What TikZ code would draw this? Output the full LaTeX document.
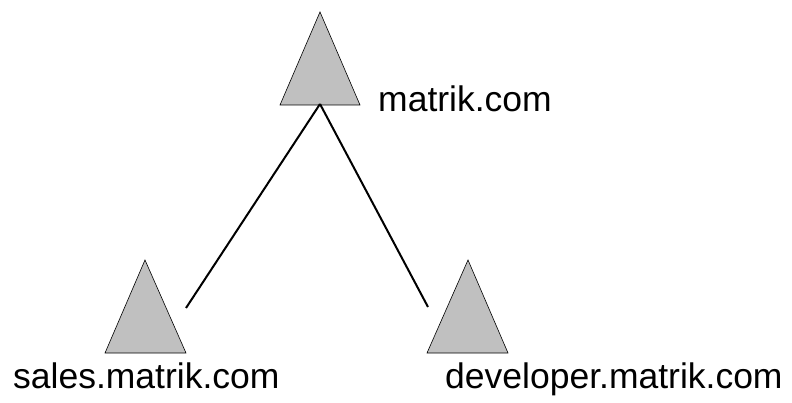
\documentclass[tikz,border=0pt]{standalone}
\usepackage{fontspec}
\setmainfont{Liberation Sans}
\begin{document}
\begin{tikzpicture}[x=1pt,y=-1pt,
  tri/.style={fill={rgb,255:red,192;green,192;blue,192},draw=black,line width=0.6pt,line join=miter},
  link/.style={draw=black,line width=2pt},
  lbl/.style={anchor=base west,inner sep=0pt,font=\fontsize{35.5}{40}\selectfont}]
\useasboundingbox (0,0) rectangle (792,403);
% triangles
\draw[tri] (320,12) -- (360,105) -- (280,105) -- cycle;
\draw[tri] (145,260) -- (186,353) -- (105,353) -- cycle;
\draw[tri] (468,260) -- (508,353) -- (427,353) -- cycle;
% connector end points
\coordinate (root) at (320,104);
\coordinate (salesend) at (186,308);
\coordinate (devend) at (428,307);
\draw[link] (root) -- (salesend);
\draw[link] (root) -- (devend);
% labels
\node[lbl] (rootlbl) at (378,112) {matrik.com};
\node[lbl] (saleslbl) at (13,388) {sales.matrik.com};
\node[lbl] (devlbl) at (445,388) {developer.matrik.com};
\end{tikzpicture}
\end{document}
